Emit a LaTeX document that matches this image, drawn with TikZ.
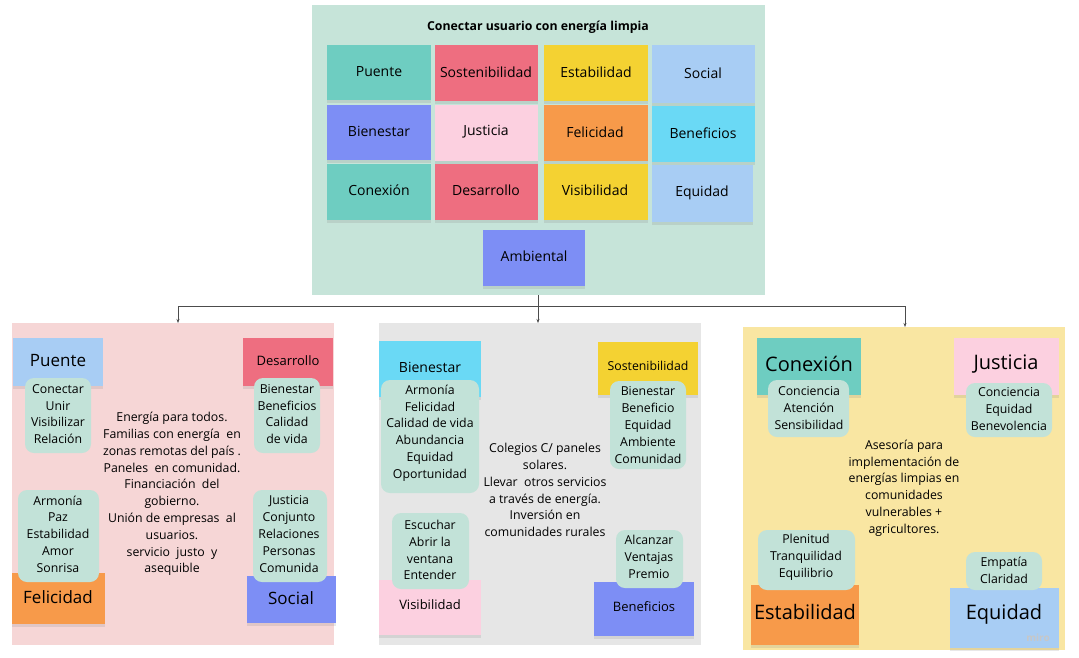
\documentclass[tikz,border=0pt]{standalone}
\usepackage{fontspec}
\setmainfont{Open Sans}
\usetikzlibrary{shadows,arrows.meta}
\definecolor{mint}{HTML}{C6E4D9}
\definecolor{bub}{HTML}{C2E2D8}
\definecolor{teal}{HTML}{6ECDC1}
\definecolor{red}{HTML}{EE6E80}
\definecolor{yel}{HTML}{F4D232}
\definecolor{lblue}{HTML}{A8CDF4}
\definecolor{vio}{HTML}{7D8EF5}
\definecolor{pink}{HTML}{FCD0E0}
\definecolor{ora}{HTML}{F79A4A}
\definecolor{cyan}{HTML}{6AD9F5}
\definecolor{pbg}{HTML}{F6D6D6}
\definecolor{gbg}{HTML}{E6E6E6}
\definecolor{ybg}{HTML}{F9E6A2}
\tikzset{
 st/.style={inner sep=0pt,drop shadow={opacity=0.18,shadow xshift=0pt,shadow yshift=-3pt}},
 bub/.style={fill=bub,rounded corners=9pt},
 btx/.style={align=center,font=\fontsize{12.3}{16.8}\selectfont},
 ctx/.style={align=center,font=\fontsize{12.3}{16.8}\selectfont},
 arr/.style={draw=black!70,line width=0.5pt,-{Stealth[length=4pt,width=3pt]}},
}
\newcommand{\stk}[6]{%
 \fill[#2,st] (#3,#4) rectangle (#5,#6);}
\begin{document}
\begin{tikzpicture}[x=1pt,y=-1pt]
\useasboundingbox (0,0) rectangle (1079,657);
\fill[white] (0,0) rectangle (1079,657);
% top panel
\fill[mint] (312,5) rectangle (765,295);
\node[font=\bfseries\fontsize{12.3}{14}\selectfont] (title) at (538,27) {Conectar usuario con energía limpia};
\tikzset{tl/.style={font=\fontsize{14}{16}\selectfont}}
\stk{}{teal}{327}{45}{431}{100} \node[tl] (t1) at (379,72) {Puente};
\stk{}{red}{435}{45}{538}{101} \node[tl] (t2) at (486,72) {Sostenibilidad};
\stk{}{yel}{544}{45}{648}{101} \node[tl] (t3) at (596,72) {Estabilidad};
\stk{}{lblue}{652}{45}{755}{103} \node[tl] (t4) at (703,73) {Social};
\stk{}{vio}{327}{105}{431}{160} \node[tl] (t5) at (379,131) {Bienestar};
\stk{}{pink}{435}{105}{538}{161} \node[tl] (t6) at (486,132) {Justicia};
\stk{}{ora}{544}{105}{648}{161} \node[tl] (t7) at (595,132) {Felicidad};
\stk{}{cyan}{652}{106}{755}{162} \node[tl] (t8) at (703,133) {Beneficios};
\stk{}{teal}{327}{164}{431}{220} \node[tl] (t9) at (379,190) {Conexión};
\stk{}{red}{435}{164}{538}{220} \node[tl] (t10) at (486,190) {Desarrollo};
\stk{}{yel}{544}{164}{648}{220} \node[tl] (t11) at (595,190) {Visibilidad};
\stk{}{lblue}{652}{165}{753}{222} \node[tl] (t12) at (702,193) {Equidad};
\stk{}{vio}{483}{230}{585}{286} \node[tl] (t13) at (534,256) {Ambiental};
\coordinate (top) at (538,295);
\coordinate (j) at (538,306);
% panels
\fill[pbg] (12,323) rectangle (334,645);
\fill[gbg] (379,323) rectangle (701,645);
\fill[ybg] (743,327) rectangle (1065,650);
\coordinate (p1) at (178,323);
\coordinate (p2) at (538,323);
\coordinate (p3) at (905,327);
\draw[black!70,line width=0.5pt] (top) -- (j) (178,306) -- (905,306);
\draw[arr] (178,306) -- (p1);
\draw[arr] (j) -- (p2);
\draw[arr] (905,306) -- (p3);
% left panel
\tikzset{pl/.style={font=\fontsize{17}{19}\selectfont}}
\stk{}{lblue}{13}{338}{103}{386} \node[pl] (a1) at (58,361) {Puente};
\stk{}{red}{243}{338}{333}{386} \node[font=\fontsize{13}{15}\selectfont] (a2) at (288,361) {Desarrollo};
\stk{}{ora}{12}{573}{105}{624} \node[pl] (a3) at (58,597) {Felicidad};
\stk{}{vio}{247}{576}{336}{623} \node[pl] (a4) at (291,598) {Social};
\fill[bub] (25,378) rectangle (91,453); \node[btx] (b1) at (58,414) {Conectar\\Unir\\Visibilizar\\Relación};
\fill[bub] (254,378) rectangle (320,453); \node[btx] (b2) at (287,414) {Bienestar\\Beneficios\\Calidad\\de vida};
\fill[bub] (18,490) rectangle (99,582); \node[btx] (b3) at (58,534) {Armonía\\Paz\\Estabilidad\\Amor\\Sonrisa};
\fill[bub] (253,490) rectangle (327,582); \node[btx] (b4) at (289,534) {Justicia\\Conjunto\\Relaciones\\Personas\\Comunida};
\node[ctx] (c1) at (172,494) {Energía para todos.\\Familias con energía\ \ en\\zonas remotas del país .\\Paneles\ \ en comunidad.\\Financiación\ \ del\\gobierno.\\Unión de empresas\ \ al\\usuarios.\\servicio\ \ justo\ \ y\\asequible};
% middle panel
\stk{}{cyan}{379}{341}{481}{397} \node[font=\fontsize{14}{16}\selectfont] (m1) at (430,367) {Bienestar};
\stk{}{yel}{598}{342}{698}{395} \node[font=\fontsize{12.3}{14}\selectfont] (m2) at (648,366) {Sostenibilidad};
\stk{}{pink}{379}{580}{481}{635} \node[font=\fontsize{13}{15}\selectfont] (m3) at (430,605) {Visibilidad};
\stk{}{vio}{594}{582}{694}{636} \node[font=\fontsize{13}{15}\selectfont] (m4) at (644,607) {Beneficios};
\fill[bub] (381,380) rectangle (479,493); \node[btx] (n1) at (430,433) {Armonía\\Felicidad\\Calidad de vida\\Abundancia\\Equidad\\Oportunidad};
\fill[bub] (610,381) rectangle (686,469); \node[btx] (n2) at (648,425) {Bienestar\\Beneficio\\Equidad\\Ambiente\\Comunidad};
\fill[bub] (392,513) rectangle (469,589); \node[btx] (n3) at (430,550) {Escuchar\\Abrir la\\ventana\\Entender};
\fill[bub] (616,530) rectangle (683,588); \node[btx] (n4) at (649,557) {Alcanzar\\Ventajas\\Premio};
\node[ctx] (c2) at (545,490) {Colegios C/ paneles\\solares.\\Llevar\ \ otros servicios\\a través de energía.\\Inversión en\\comunidades rurales};
% right panel
\tikzset{pr/.style={font=\fontsize{20}{22}\selectfont}}
\stk{}{teal}{757}{338}{861}{395} \node[pr] (r1) at (809,364) {Conexión};
\stk{}{pink}{954}{338}{1059}{395} \node[pr] (r2) at (1006,364) {Justicia};
\stk{}{ora}{751}{585}{859}{645} \node[pr] (r3) at (805,612) {Estabilidad};
\stk{}{lblue}{950}{588}{1059}{648} \node[pr] (r4) at (1004,614) {Equidad};
\node[text=black!22,font=\bfseries\fontsize{10}{11}\selectfont,inner sep=1pt] (w) at (1038,638) {miro};
\fill[bub] (768,380) rectangle (849,437); \node[btx] (s1) at (809,408) {Conciencia\\Atención\\Sensibilidad};
\fill[bub] (966,383) rectangle (1052,437); \node[btx] (s2) at (1009,409) {Conciencia\\Equidad\\Benevolencia};
\fill[bub] (758,530) rectangle (855,590); \node[btx] (s3) at (806,557) {Plenitud\\Tranquilidad\\Equilibrio};
\fill[bub] (966,552) rectangle (1042,590); \node[btx] (s4) at (1004,570) {Empatía\\Claridad};
\node[ctx] (c3) at (904,488) {Asesoría para\\implementación de\\energías limpias en\\comunidades\\vulnerables +\\agricultores.};
\end{tikzpicture}
\end{document}
